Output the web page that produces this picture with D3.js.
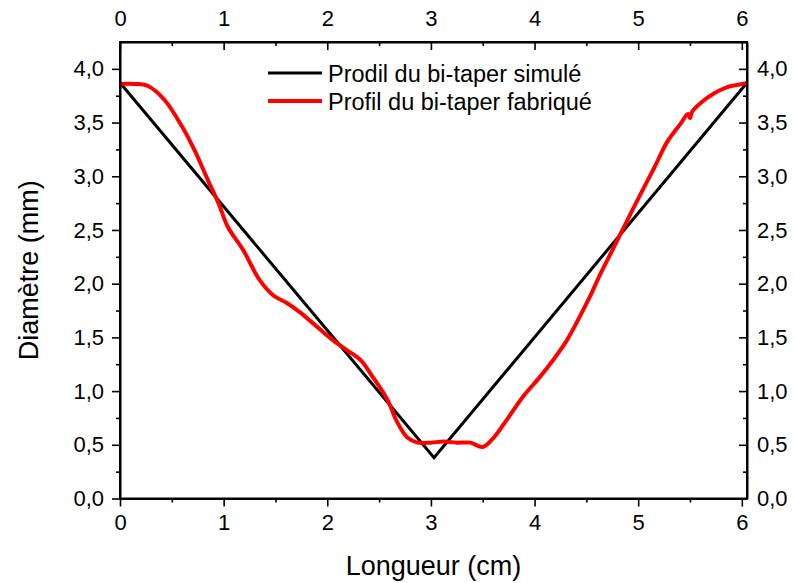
<!DOCTYPE html>
<html><head><meta charset="utf-8">
<script src="https://cdn.jsdelivr.net/npm/d3@7"></script>
<style>body{margin:0;background:#fff}svg{display:block}text{font-family:"Liberation Sans",Arial,sans-serif;fill:#000}</style>
</head><body><svg id="c" width="794" height="583"></svg>
<script>
const simX = [0, 3.03, 6.05];
const simY = [3.87, 0.38, 3.87];
const fabX = [0, 0.14, 0.27, 0.43, 0.60, 0.72, 0.85, 0.95, 1.04, 1.19, 1.35, 1.48, 1.61, 1.74, 1.90, 2.06, 2.19, 2.32, 2.44, 2.58, 2.67, 2.77, 2.87, 3.0, 3.12, 3.25, 3.38, 3.50, 3.60, 3.73, 3.89, 4.05, 4.18, 4.31, 4.44, 4.54, 4.63, 4.76, 4.89, 5.02, 5.15, 5.28, 5.41, 5.48, 5.50, 5.52, 5.60, 5.73, 5.86, 6.01, 6.05];
const fabY = [3.86, 3.86, 3.84, 3.71, 3.46, 3.24, 2.96, 2.75, 2.53, 2.31, 2.03, 1.89, 1.82, 1.73, 1.60, 1.47, 1.38, 1.29, 1.13, 0.92, 0.72, 0.57, 0.52, 0.52, 0.53, 0.52, 0.52, 0.48, 0.56, 0.73, 0.95, 1.13, 1.29, 1.47, 1.70, 1.89, 2.08, 2.33, 2.58, 2.83, 3.07, 3.32, 3.49, 3.58, 3.54, 3.60, 3.68, 3.77, 3.83, 3.86, 3.87];
const xTicks = [0, 1, 2, 3, 4, 5, 6];
const xMinor = [0.5, 1.5, 2.5, 3.5, 4.5, 5.5];
const yTicks = [0, 0.5, 1, 1.5, 2, 2.5, 3, 3.5, 4];
const yMinor = [0.25, 0.75, 1.25, 1.75, 2.25, 2.75, 3.25, 3.75];
const seriesNames = ["Prodil du bi-taper simulé", "Profil du bi-taper fabriqué"];
const xTitle = "Longueur (cm)";
const yTitle = "Diamètre (mm)";

const L = 120, R = 747, T = 42, B = 498.5;
const x = d3.scaleLinear().domain([0, 6.05]).range([L, R]);
const y = d3.scaleLinear().domain([0, 4.25]).range([B, T]);
const svg = d3.select("#c");
const fmt = d => d.toFixed(1).replace(".", ",");

// data lines
const line = d3.line().x(d => x(d[0])).y(d => y(d[1]));
svg.append("path").datum(simX.map((v, i) => [v, simY[i]]))
  .attr("d", line).attr("fill", "none").attr("stroke", "#000").attr("stroke-width", 3);
svg.append("path").datum(fabX.map((v, i) => [v, fabY[i]]))
  .attr("d", line.curve(d3.curveCatmullRom.alpha(0.5))).attr("fill", "none").attr("stroke", "#ff0000").attr("stroke-width", 4).attr("stroke-linejoin", "round");

// axes
function styleAxis(g) {
  g.selectAll(".domain").attr("stroke-width", 2).attr("stroke", "#000");
  g.selectAll(".tick line").attr("stroke-width", 1.6).attr("stroke", "#000");
  g.selectAll("text").style("font-size", "22px").style("font-family", "Liberation Sans, Arial, sans-serif");
}
function minor(g, axis) { g.call(axis); g.select(".domain").remove(); g.selectAll("text").remove(); g.selectAll(".tick line").attr("stroke-width", 1.6); }

const gb = svg.append("g").attr("transform", `translate(0,${B})`);
gb.call(d3.axisBottom(x).tickValues(xTicks).tickSize(8).tickSizeOuter(0).tickPadding(8).tickFormat(d3.format("d"))); styleAxis(gb);
svg.append("g").attr("transform", `translate(0,${B})`).call(g => minor(g, d3.axisBottom(x).tickValues(xMinor).tickSize(4)));

const gt = svg.append("g").attr("transform", `translate(0,${T})`);
gt.call(d3.axisTop(x).tickValues(xTicks).tickSize(-8).tickSizeOuter(0).tickPadding(16).tickFormat(d3.format("d"))); styleAxis(gt);
svg.append("g").attr("transform", `translate(0,${T})`).call(g => minor(g, d3.axisTop(x).tickValues(xMinor).tickSize(-4)));

const gl = svg.append("g").attr("transform", `translate(${L},0)`);
gl.call(d3.axisLeft(y).tickValues(yTicks).tickSize(8).tickSizeOuter(0).tickPadding(8).tickFormat(fmt)); styleAxis(gl);
svg.append("g").attr("transform", `translate(${L},0)`).call(g => minor(g, d3.axisLeft(y).tickValues(yMinor).tickSize(4)));

const gr = svg.append("g").attr("transform", `translate(${R},0)`);
gr.call(d3.axisRight(y).tickValues(yTicks).tickSize(-8).tickSizeOuter(0).tickPadding(10).tickFormat(fmt)); styleAxis(gr);
svg.append("g").attr("transform", `translate(${R},0)`).call(g => minor(g, d3.axisRight(y).tickValues(yMinor).tickSize(-4)));

// close the frame
svg.append("rect").attr("x", L).attr("y", T).attr("width", R - L).attr("height", B - T)
  .attr("fill", "none").attr("stroke", "#000").attr("stroke-width", 2);

// titles
svg.append("text").attr("x", (L + R) / 2).attr("y", 575).attr("text-anchor", "middle").style("font-size", "27px").text(xTitle);
svg.append("text").attr("transform", `translate(38,${(T + B) / 2}) rotate(-90)`).attr("text-anchor", "middle").style("font-size", "27px").text(yTitle);

// legend
const colors = ["#000", "#ff0000"];
const widths = [3, 4];
seriesNames.forEach((n, i) => {
  const yy = 73 + i * 28;
  svg.append("line").attr("x1", 268).attr("x2", 322).attr("y1", yy).attr("y2", yy).attr("stroke", colors[i]).attr("stroke-width", widths[i]);
  svg.append("text").attr("x", 328).attr("y", yy + 8.5).style("font-size", "23.5px").text(n);
});
</script></body></html>
